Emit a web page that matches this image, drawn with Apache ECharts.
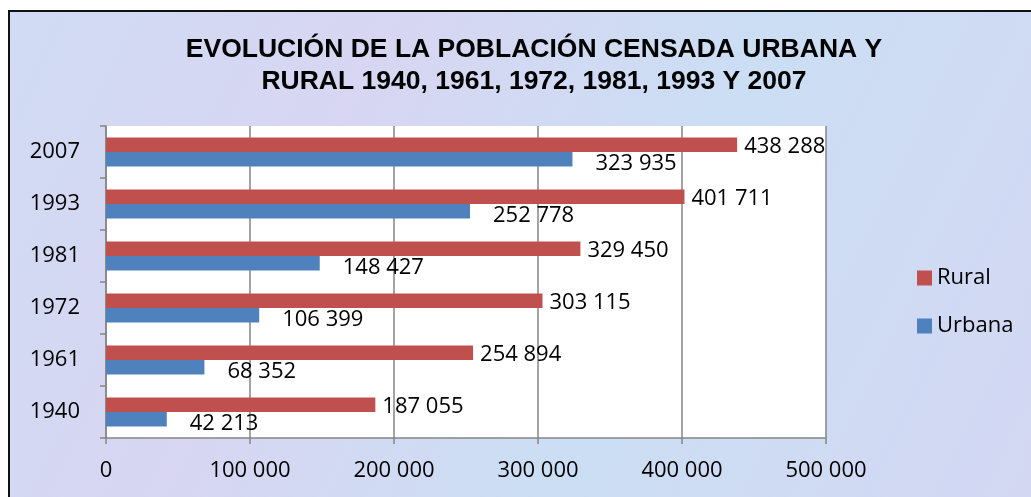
<!DOCTYPE html>
<html>
<head>
<meta charset="utf-8">
<script src="https://cdn.jsdelivr.net/npm/echarts@6/dist/echarts.min.js"></script>
<style>
html,body{margin:0;padding:0;background:#fff;}
#main{width:1031px;height:497px;}
</style>
</head>
<body>
<div id="main"></div>
<script>
var years = ['1940', '1961', '1972', '1981', '1993', '2007'];
var rural = [187055, 254894, 303115, 329450, 401711, 438288];
var urbana = [42213, 68352, 106399, 148427, 252778, 323935];
var axisTicks = [0, 100000, 200000, 300000, 400000, 500000];

function miles(v){
	return String(v).replace(/\B(?=(\d{3})+(?!\d))/g, ' ');
}

var myChart = echarts.init(document.getElementById('main'));
var txt = {fontFamily: 'Open Sans', fontSize: 22, color: '#000'};
option = {
	backgroundColor: '#fff',
	animation: false,
	/*fondo con marco*/
	graphic: [
		{
			type: 'rect', z: -10, silent: true,
			shape: {x: 9, y: 11, width: 1040, height: 500},
			style: {
				fill: new echarts.graphic.LinearGradient(0, 0, 1, 1, [
					{offset: 0, color: '#d0dbf4'},
					{offset: 0.3, color: '#d8d6f2'},
					{offset: 0.6, color: '#cbdef4'},
					{offset: 1, color: '#d4d7f3'}
				]),
				stroke: '#111', lineWidth: 2
			}
		}
	],
	title: {
		text: 'EVOLUCIÓN DE LA POBLACIÓN CENSADA URBANA Y\nRURAL 1940, 1961, 1972, 1981, 1993 Y 2007',
		left: 529, top: 29, textAlign: 'center',
		textStyle: {fontFamily: 'Liberation Sans', fontWeight: 'bold', fontSize: 26.5, lineHeight: 32, color: '#000'}
	},
	legend: {
		orient: 'vertical',
		left: 912, top: 262,
		itemWidth: 15, itemHeight: 15, itemGap: 26,
		icon: 'rect',
		textStyle: txt,
		data: ['Rural', 'Urbana']
	},
	grid: {
		left: 106, top: 126, width: 720, height: 312,
		show: true, backgroundColor: '#fff', borderWidth: 0
	},
	xAxis: {
		type: 'value', min: axisTicks[0], max: axisTicks[axisTicks.length - 1], interval: 100000,
		axisLine: {show: true, lineStyle: {color: '#868686', width: 1.5}},
		axisTick: {show: true, length: 6, lineStyle: {color: '#868686', width: 1.5}},
		splitLine: {show: true, lineStyle: {color: '#868686', width: 1.5}},
		axisLabel: Object.assign({margin: 22, formatter: miles}, txt)
	},
	yAxis: {
		type: 'category', data: years,
		axisLine: {show: true, lineStyle: {color: '#868686', width: 1.5}},
		axisTick: {show: true, length: 6, lineStyle: {color: '#868686', width: 1.5}},
		axisLabel: Object.assign({margin: 26}, txt)
	},
	series: [
		{
			name: 'Rural', type: 'bar', data: rural,
			barCategoryGap: '44%', barGap: '0%',
			itemStyle: {color: '#C0504D'},
			label: Object.assign({show: true, position: 'right', offset: [2, 2], formatter: function(p){ return miles(p.value); }}, txt)
		},
		{
			name: 'Urbana', type: 'bar', data: urbana,
			barCategoryGap: '44%', barGap: '0%',
			itemStyle: {color: '#4F81BD'},
			label: Object.assign({show: true, position: 'right', offset: [18, 4], formatter: function(p){ return miles(p.value); }}, txt)
		}
	]
};
myChart.setOption(option);
</script>
</body>
</html>
